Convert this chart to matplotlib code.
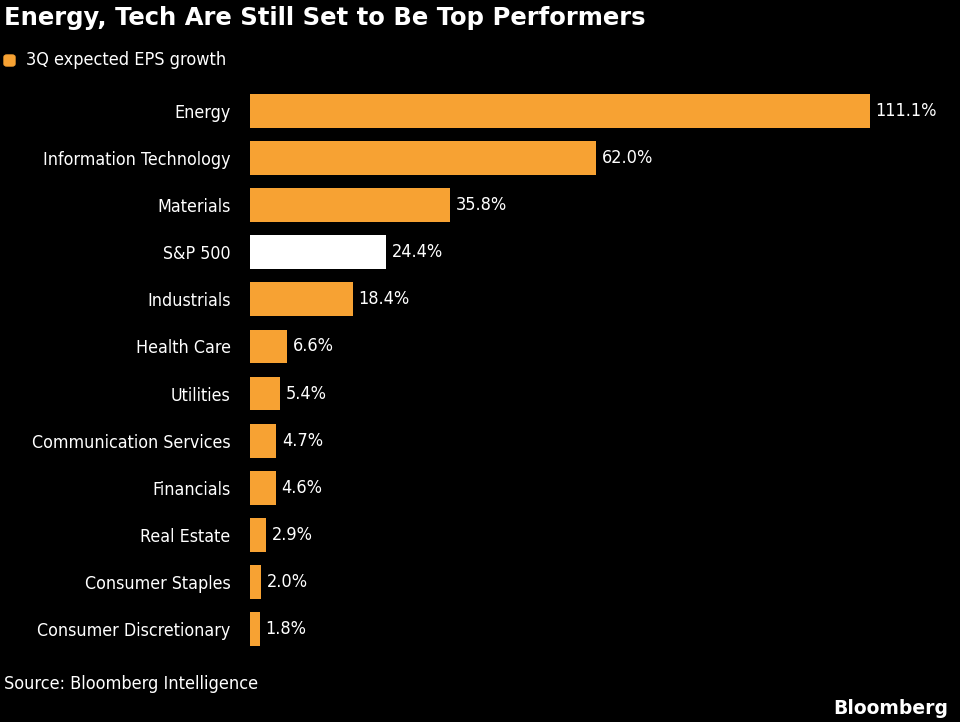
import matplotlib
matplotlib.use("Agg")
import matplotlib.pyplot as plt

categories = ["Energy", "Information Technology", "Materials", "S&P 500", "Industrials",
              "Health Care", "Utilities", "Communication Services", "Financials",
              "Real Estate", "Consumer Staples", "Consumer Discretionary"]
values = [111.1, 62.0, 35.8, 24.4, 18.4, 6.6, 5.4, 4.7, 4.6, 2.9, 2.0, 1.8]
labels = ["111.1%", "62.0%", "35.8%", "24.4%", "18.4%", "6.6%", "5.4%", "4.7%",
          "4.6%", "2.9%", "2.0%", "1.8%"]

orange = "#F7A233"
colors = ["white" if c == "S&P 500" else orange for c in categories]
fam = ["DejaVu Sans"]

fig = plt.figure(figsize=(9.6, 7.22), dpi=100, facecolor="black")
ax = fig.add_axes([250/960, 1-652.5/722, 620/960, 565/722], facecolor="black")
y = list(range(len(categories)))
ax.barh(y, values, height=0.72, color=colors)
ax.set_xlim(0, 111.1)
ax.set_ylim(len(categories)-0.5, -0.5)
for i, (v, l) in enumerate(zip(values, labels)):
    ax.text(v + 1.0, i, l, color="white", va="center", ha="left", fontsize=13,
            family=fam, fontstretch="condensed")
ax.set_yticks(y)
ax.set_yticklabels(categories, color="white", fontsize=12.8, family=fam,
                   fontstretch="condensed")
ax.tick_params(axis="y", length=0, pad=14)
ax.set_xticks([])
for s in ax.spines.values():
    s.set_visible(False)

fig.text(4/960, 1-18/722, "Energy, Tech Are Still Set to Be Top Performers", color="white",
         fontsize=17.5, fontweight="bold", va="center", ha="left")
fig.patches.append(matplotlib.patches.FancyBboxPatch((4/960, 1-66/722), 11/960, 11/722,
    boxstyle="round,pad=0,rounding_size=0.003", transform=fig.transFigure, color=orange))
fig.text(26/960, 1-60/722, "3Q expected EPS growth", color="white", fontsize=13,
         va="center", ha="left", family=fam, fontstretch="condensed")
fig.text(4/960, 1-684/722, "Source: Bloomberg Intelligence", color="white", fontsize=13,
         va="center", ha="left", family=fam, fontstretch="condensed")
fig.text(948/960, 1-708/722, "Bloomberg", color="white", fontsize=13.5, fontweight="bold",
         va="center", ha="right")
fig.savefig("out.png", dpi=100, facecolor="black")
